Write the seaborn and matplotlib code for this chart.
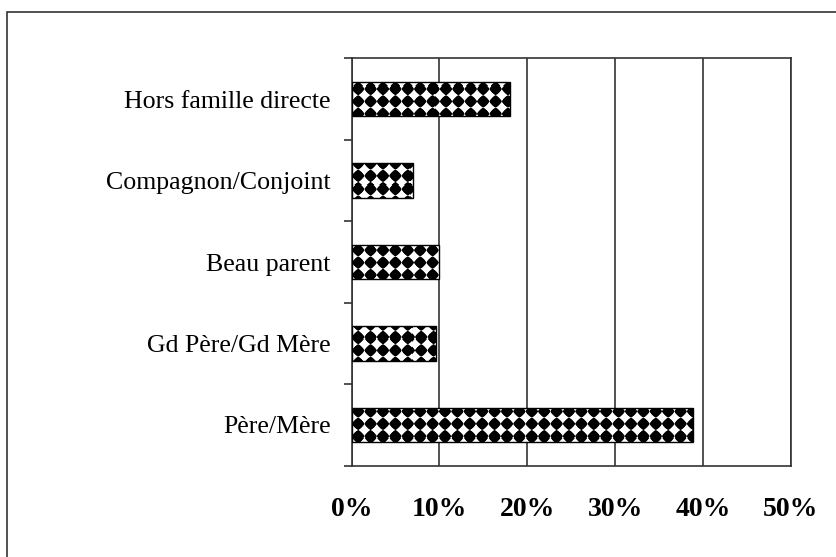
import numpy as np
import pandas as pd
import matplotlib
matplotlib.use('Agg')
import matplotlib.pyplot as plt
import seaborn as sns
from matplotlib.ticker import FixedLocator, FuncFormatter
from matplotlib.patches import Rectangle

# data (percent)
categories = ['Hors famille directe', 'Compagnon/Conjoint', 'Beau parent',
              'Gd Père/Gd Mère', 'Père/Mère']
shares = [18.0, 7.0, 10.0, 9.6, 38.9]
xticks = [0, 10, 20, 30, 40, 50]

sns.set_style('white')
plt.rcParams['font.family'] = ['Liberation Serif', 'DejaVu Serif']
plt.rcParams['text.color'] = 'black'
plt.rcParams['xtick.labelcolor'] = 'black'
plt.rcParams['ytick.labelcolor'] = 'black'

df = pd.DataFrame({'lien': categories, 'part': shares})

DPI = 100
W, H = 837, 557
fig = plt.figure(figsize=(W / DPI, H / DPI), dpi=DPI)
ax_l, ax_r, ax_t, ax_b = 351.7, 790.7, 58.3, 465.7
ax = fig.add_axes([ax_l / W, 1 - ax_b / H, (ax_r - ax_l) / W, (ax_b - ax_t) / H])

sns.barplot(data=df, x='part', y='lien', order=categories, orient='h',
            width=0.42, color='white', ax=ax, zorder=4)

ax.set_xlim(0, 50)
ax.set_ylim(4.5, -0.5)

# checkered (diamond) fill pattern, built in pixel space of the axes
pw, ph = int(round(ax_r - ax_l)), int(round(ax_b - ax_t))
period = 12.4
yy, xx = np.mgrid[0:ph, 0:pw] + 0.5
dx = np.abs((xx % period) - period / 2)
dy = np.abs((yy % period) - period / 2)
dist = (dx ** 1.25 + dy ** 1.25) ** (1 / 1.25)
texture = np.clip(dist - period * 0.5 + 0.5, 0, 1)

for p in list(ax.patches):
    p.set_facecolor('none')
    p.set_edgecolor('black')
    p.set_linewidth(1.0)
    im = ax.imshow(texture, cmap='gray', vmin=0, vmax=1, aspect='auto',
                   extent=(0, 50, 4.5, -0.5), origin='upper',
                   interpolation='nearest', zorder=3)
    im.set_clip_path(p)

ax.set_xlim(0, 50)
ax.set_ylim(4.5, -0.5)
ax.set_xticks(xticks)
ax.xaxis.set_major_formatter(FuncFormatter(lambda v, pos: f'{v:.0f}%'))
ax.tick_params(axis='x', length=6, width=1.2, color='#333333', pad=16.5,
               labelsize=20)
for lab in ax.get_xticklabels():
    lab.set_fontweight('bold')

ax.yaxis.set_minor_locator(FixedLocator(np.arange(-0.5, 5, 1)))
ax.tick_params(axis='y', which='major', length=0, pad=15, labelsize=18.6)
ax.tick_params(axis='y', which='minor', length=6, width=1.2, color='#333333',
               left=True)

ax.set_xlabel('')
ax.set_ylabel('')
ax.grid(axis='x', color='#333333', linewidth=1.2, zorder=0)
ax.grid(axis='y', visible=False)
ax.set_axisbelow(True)
for s in ax.spines.values():
    s.set_visible(True)
    s.set_color('#333333')
    s.set_linewidth(1.2)

# outer frame of the original figure (only left and top edges visible)
fig.add_artist(Rectangle((7.5 / W, -0.1), 1.2, 1.1 - 11.5 / H,
                         transform=fig.transFigure, fill=False,
                         edgecolor='#333333', linewidth=1.2))

fig.savefig('out.png', dpi=DPI)
